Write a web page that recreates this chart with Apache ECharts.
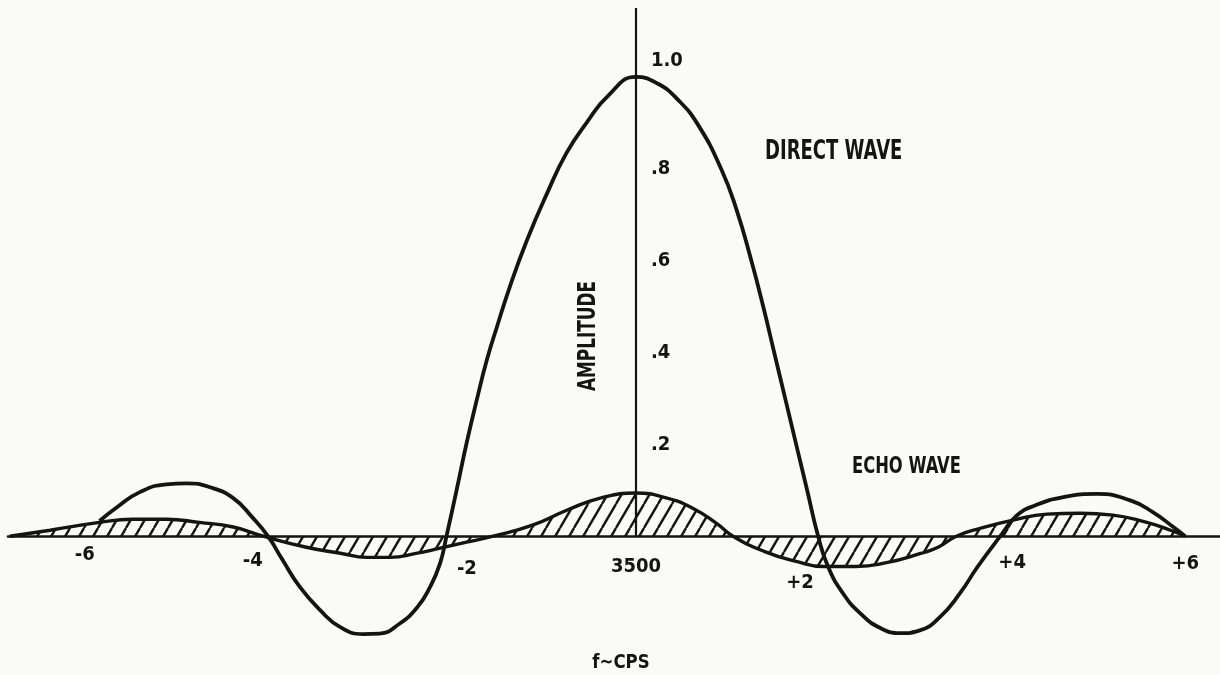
<!DOCTYPE html>
<html>
<head>
<meta charset="utf-8">
<script src="https://cdn.jsdelivr.net/npm/echarts@6/dist/echarts.min.js"></script>
<style>
  html, body { margin: 0; padding: 0; background: #fafaf8; }
  #chart { width: 1220px; height: 675px; }
</style>
</head>
<body>
<div id="chart"></div>
<script>
// Frequency offset from 3500 cps (x) and relative amplitude (y)
const directX = [-5.86, -5.67, -5.42, -5.13, -4.91, -4.66, -4.40, -4.19, -4.02, -3.86,
  -3.67, -3.45, -3.23, -2.98, -2.80, -2.58, -2.39, -2.25, -2.14, -2.07,
  -1.96, -1.85, -1.74, -1.63, -1.52, -1.38, -1.19, -0.97, -0.76, -0.54,
  -0.30, 0, 0.24, 0.46, 0.68, 0.93, 1.10, 1.26, 1.39,
  1.51, 1.63, 1.75, 1.87, 1.99, 2.10, 2.26, 2.45, 2.67, 2.89,
  3.10, 3.32, 3.54, 3.73, 3.98, 4.16, 4.36, 4.67, 5.04, 5.40,
  5.65, 5.87, 6.0];
const directY = [0.033, 0.063, 0.096, 0.113, 0.115, 0.107, 0.083, 0.041, 0, -0.052,
  -0.111, -0.161, -0.198, -0.213, -0.212, -0.19, -0.155, -0.111, -0.059, 0,
  0.10, 0.203, 0.296, 0.383, 0.455, 0.542, 0.645, 0.747, 0.834, 0.90,
  0.96, 1.0, 0.985, 0.95, 0.895, 0.80, 0.71, 0.60, 0.50,
  0.40, 0.30, 0.20, 0.10, 0, -0.067, -0.124, -0.168, -0.20, -0.211,
  -0.205, -0.176, -0.124, -0.067, 0, 0.045, 0.067, 0.085, 0.092, 0.078,
  0.052, 0.02, 0];

const echoX = [-6.84, -6.40, -5.86, -5.50, -5.13, -4.77, -4.40, -4.07, -3.60, -3.23,
  -2.94, -2.69, -2.39, -2.14, -1.85, -1.56, -1.13, -0.75, -0.39, 0,
  0.34, 0.62, 0.88, 1.06, 1.40, 1.75, 2.05, 2.40, 2.75, 3.10,
  3.30, 3.50, 3.76, 4.12, 4.49, 4.85, 5.21, 5.58, 5.84, 6.0];
const echoY = [0, 0.013, 0.03, 0.037, 0.037, 0.03, 0.02, 0, -0.024, -0.037,
  -0.046, -0.046, -0.037, -0.026, -0.013, 0, 0.024, 0.057, 0.083, 0.094,
  0.083, 0.061, 0.028, 0, -0.033, -0.055, -0.066, -0.066, -0.057, -0.038,
  -0.024, 0, 0.017, 0.035, 0.048, 0.05, 0.046, 0.03, 0.013, 0];

const xTickValues = [-6, -4, -2, 0, 2, 4, 6];
const xTickLabels = ['-6', '-4', '-2', '3500', '+2', '+4', '+6'];
const yTickValues = [0.2, 0.4, 0.6, 0.8, 1.0];
const yTickLabels = ['.2', '.4', '.6', '.8', '1.0'];

const INK = '#141414';
const FONT = "'DejaVu Sans Condensed', 'DejaVu Sans', sans-serif";

// Hand-lettered tick labels sit a little off their ticks; padding [top, right, bottom, left]
const xLabelPadding = [
  [1, 4, 0, 0],
  [7, 34, 0, 0],
  [15, 0, 0, 28],
  [13, 0, 0, 0],
  [29, 38, 0, 0],
  [9, 0, 0, 20],
  [10, 0, 0, 0]
];

// Diagonal "/" hatching used under the echo curve
function hatchPattern() {
  const w = 14, h = 24;
  const c = document.createElement('canvas');
  c.width = w; c.height = h;
  const g = c.getContext('2d');
  g.strokeStyle = INK;
  g.lineWidth = 2.4;
  g.beginPath();
  for (let k = -1; k <= 1; k++) {
    g.moveTo(k * w, h);
    g.lineTo(k * w + w, 0);
  }
  g.stroke();
  return c;
}

const zip = (xs, ys) => xs.map((x, i) => [x, ys[i]]);
const indexOf = (values, v) => values.findIndex(t => Math.abs(t - v) < 1e-6);

const xRich = {};
xLabelPadding.forEach((p, i) => {
  xRich['t' + i] = { fontFamily: FONT, fontWeight: 'bold', fontSize: 20, color: INK, padding: p };
});

// grid spans y from -0.3 (bottom) to 1.15 (top); axes are shifted onto x = 0 / y = 0
const GRID = { left: 8, right: 0, top: 8, bottom: 1 };
const H = 675 - GRID.top - GRID.bottom;
const W = 1220 - GRID.left - GRID.right;
const X_MIN = -6.86, X_MAX = 6.38, Y_MIN = -0.3, Y_MAX = 1.15;
const yZeroFromBottom = H * (0 - Y_MIN) / (Y_MAX - Y_MIN);
const xZeroFromLeft = W * (0 - X_MIN) / (X_MAX - X_MIN);

const chart = echarts.init(document.getElementById('chart'));
chart.setOption({
  backgroundColor: '#fafaf8',
  animation: false,
  grid: Object.assign({ containLabel: false, outerBoundsMode: 'none' }, GRID),
  xAxis: {
    type: 'value', min: X_MIN, max: X_MAX,
    position: 'bottom',
    offset: -yZeroFromBottom,
    axisLine: { show: true, onZero: false, lineStyle: { color: INK, width: 2.6 } },
    axisTick: { show: false },
    splitLine: { show: false },
    axisLabel: {
      customValues: xTickValues,
      margin: 8,
      color: INK, fontFamily: FONT, fontWeight: 'bold', fontSize: 20,
      formatter: v => {
        const i = indexOf(xTickValues, v);
        return i >= 0 ? '{t' + i + '|' + xTickLabels[i] + '}' : '';
      },
      rich: xRich
    }
  },
  yAxis: {
    type: 'value', min: Y_MIN, max: Y_MAX,
    position: 'left',
    offset: -xZeroFromLeft,
    axisLine: { show: false, onZero: false },
    axisTick: { show: false },
    splitLine: { show: false },
    axisLabel: {
      customValues: yTickValues,
      inside: true,
      margin: 15,
      color: INK, fontFamily: FONT, fontWeight: 'bold', fontSize: 20,
      formatter: v => {
        const i = indexOf(yTickValues, v);
        if (i < 0) return '';
        return '{' + (v === 1 ? 'hi' : 'n') + '|' + yTickLabels[i] + '}';
      },
      rich: {
        n: { fontFamily: FONT, fontWeight: 'bold', fontSize: 20, color: INK, padding: [0, 0, 0, 0] },
        hi: { fontFamily: FONT, fontWeight: 'bold', fontSize: 20, color: INK, padding: [0, 0, 32, 0] }
      }
    }
  },
  series: [
    {
      name: 'ECHO WAVE',
      type: 'line',
      data: zip(echoX, echoY),
      smooth: 0.5,
      showSymbol: false,
      lineStyle: { color: INK, width: 3.4 },
      areaStyle: { color: { image: hatchPattern(), repeat: 'repeat' }, opacity: 1 },
      markLine: {
        silent: true,
        symbol: ['none', 'none'],
        label: { show: false },
        lineStyle: { color: INK, width: 2.2, type: 'solid' },
        data: [[{ coord: [0, 0] }, { coord: [0, Y_MAX] }]]
      },
      z: 2
    },
    {
      name: 'DIRECT WAVE',
      type: 'line',
      data: zip(directX, directY),
      smooth: 0.5,
      showSymbol: false,
      lineStyle: { color: INK, width: 3.8 },
      z: 3
    }
  ],
  graphic: [
    { type: 'text', x: 765, y: 152, scaleX: 0.77,
      style: { text: 'DIRECT WAVE', fill: INK, font: "bold 26px " + FONT, align: 'left', verticalAlign: 'middle' } },
    { type: 'text', x: 852, y: 467, scaleX: 0.79,
      style: { text: 'ECHO WAVE', fill: INK, font: "bold 23px " + FONT, align: 'left', verticalAlign: 'middle' } },
    { type: 'text', x: 588, y: 336, rotation: Math.PI / 2, scaleX: 0.75,
      style: { text: 'AMPLITUDE', fill: INK, font: "bold 25px " + FONT, align: 'center', verticalAlign: 'middle' } },
    { type: 'text', x: 621, y: 663, scaleX: 0.92,
      style: { text: 'f∼CPS', fill: INK, font: "bold 20px " + FONT, align: 'center', verticalAlign: 'middle' } }
  ]
});
</script>
</body>
</html>
